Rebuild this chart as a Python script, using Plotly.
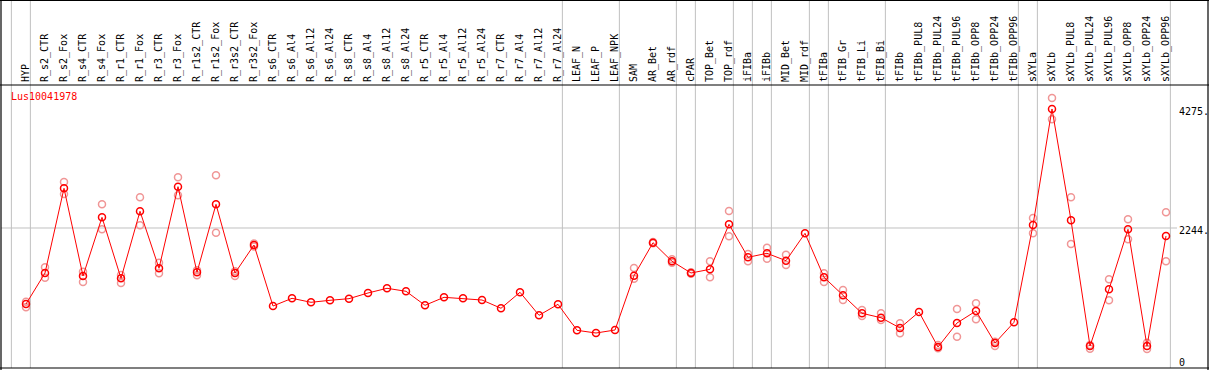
import plotly.graph_objects as go

categories = ["HYP", "R_s2_CTR", "R_s2_Fox", "R_s4_CTR", "R_s4_Fox", "R_r1_CTR", "R_r1_Fox",
              "R_r3_CTR", "R_r3_Fox", "R_r1s2_CTR", "R_r1s2_Fox", "R_r3s2_CTR", "R_r3s2_Fox",
              "R_s6_CTR", "R_s6_Al4", "R_s6_Al12", "R_s6_Al24", "R_s8_CTR", "R_s8_Al4", "R_s8_Al12",
              "R_s8_Al24", "R_r5_CTR", "R_r5_Al4", "R_r5_Al12", "R_r5_Al24", "R_r7_CTR", "R_r7_Al4",
              "R_r7_Al12", "R_r7_Al24", "LEAF_N", "LEAF_P", "LEAF_NPK", "SAM", "AR_Bet", "AR_rdf",
              "cPAR", "TOP_Bet", "TOP_rdf", "iFIBa", "iFIBb", "MID_Bet", "MID_rdf", "tFIBa",
              "tFIB_Gr", "tFIB_Li", "tFIB_Bi", "tFIBb", "tFIBb_PUL8", "tFIBb_PUL24", "tFIBb_PUL96",
              "tFIBb_OPP8", "tFIBb_OPP24", "tFIBb_OPP96", "sXYLa", "sXYLb", "sXYLb_PUL8",
              "sXYLb_PUL24", "sXYLb_PUL96", "sXYLb_OPP8", "sXYLb_OPP24", "sXYLb_OPP96"]

mean_values = [947, 1476, 2921, 1425, 2426, 1385, 2529, 1556, 2949, 1488, 2648, 1476, 1954,
               913, 1044, 976, 1010, 1038, 1135, 1215, 1164, 925, 1061, 1044, 1015, 874, 1147, 754, 942,
               498, 452, 503,
               1430, 1993, 1676, 1476, 1539, 2307, 1744, 1812, 1686, 2153,
               1403, 1096, 788, 713,
               538, 811, 213, 623, 828, 282, 635,
               2295,
               4275, 2375, 230, 1198, 2221, 230, 2108]

rep_high = [986, 1573, 3029, 1498, 2648, 1442, 2768, 1652, 3109, 1522, 3143, 1505, 1980,
            None, None, None, None, None, None, None, None, None, None, None, None, None, None, None, None,
            None, None, None,
            1561, 2005, 1710, 1490, 1676, 2534, 1800, 1908, 1789, None,
            1471, 1186, 845, 788,
            618, None, 247, 862, 959, 304, None,
            2415,
            4462, 2768, 247, 1369, 2392, 287, 2512]

rep_low = [891, 1396, 2824, 1322, 2221, 1305, 2290, 1471, 2802, 1437, 2164, 1425, 1930,
           None, None, None, None, None, None, None, None, None, None, None, None, None, None, None, None,
           None, None, None,
           1380, 1983, 1650, 1465, 1403, 2102, 1676, 1720, 1613, None,
           1322, 1015, 742, 674,
           447, None, 191, 390, 686, 230, None,
           2153,
           4099, 1971, 185, 1010, 2051, 179, 1676]

group_ends = [-1, 0, 28, 31, 34, 35, 37, 38, 39, 41, 42, 45, 52, 53, 60]

y_tick_vals = [0, 2244, 4275]
y_tick_text = ["0", "2244.", "4275."]
gene_name = "Lus10041978"

W, H = 1209, 370
L, R, T, B = 1, 1209 - 1172, 85, 2
PW, PH = W - L - R, H - T - B
MONO = "DejaVu Sans Mono"

x_idx = list(range(len(categories)))

fig = go.Figure()

for reps in (rep_high, rep_low):
    fig.add_trace(go.Scatter(
        x=x_idx, y=reps, mode="markers", showlegend=False, hoverinfo="skip",
        marker=dict(symbol="circle-open", size=7, color="rgb(240,150,150)", line=dict(width=1.5)),
    ))

fig.add_trace(go.Scatter(
    x=x_idx, y=mean_values, mode="lines+markers", showlegend=False, name=gene_name,
    line=dict(color="red", width=1),
    marker=dict(symbol="circle-open", size=7, color="red", line=dict(width=1.5)),
))

def px_to_paper_y(p):
    return (H - B - p) / PH

def px_to_paper_x(p):
    return (p - L) / PW

shapes = []
for g in group_ends:
    shapes.append(dict(type="line", xref="x", yref="paper", x0=g + 0.23, x1=g + 0.23,
                       y0=0, y1=px_to_paper_y(0), line=dict(color="#c0c0c0", width=1), layer="below"))
shapes.append(dict(type="line", xref="paper", yref="y", x0=0, x1=px_to_paper_x(1177),
                   y0=y_tick_vals[1], y1=y_tick_vals[1], line=dict(color="#c0c0c0", width=1), layer="below"))
# frame lines
for py in (0.5, 85, 368):
    shapes.append(dict(type="line", xref="paper", yref="paper", x0=px_to_paper_x(0), x1=px_to_paper_x(W),
                       y0=px_to_paper_y(py), y1=px_to_paper_y(py), line=dict(color="black", width=1.2)))
for pxx in (1, 1208):
    shapes.append(dict(type="line", xref="paper", yref="paper", x0=px_to_paper_x(pxx), x1=px_to_paper_x(pxx),
                       y0=px_to_paper_y(H), y1=px_to_paper_y(0), line=dict(color="black", width=1.2)))

fig.update_layout(
    width=W, height=H,
    margin=dict(l=L, r=R, t=T, b=B, pad=0),
    paper_bgcolor="white", plot_bgcolor="white",
    shapes=shapes,
    annotations=[dict(text=gene_name, xref="paper", yref="paper", x=px_to_paper_x(9), y=px_to_paper_y(97),
                      xanchor="left", yanchor="middle", showarrow=False,
                      font=dict(family=MONO, size=10, color="red"))],
    xaxis=dict(range=[(L - 26) / 19, (L + PW - 26) / 19], side="top",
               tickmode="array", tickvals=x_idx, ticktext=categories, tickangle=-90,
               tickfont=dict(family=MONO, size=10, color="black"), ticks="",
               showgrid=False, zeroline=False, showline=False, ticklabelstandoff=2),
    yaxis=dict(range=[-145, 4684], side="right", tickmode="array", tickvals=y_tick_vals,
               ticktext=y_tick_text, tickfont=dict(family=MONO, size=10, color="black"), ticks="",
               showgrid=False, zeroline=False, showline=False, ticklabelstandoff=6,
               ticklabelshift=3),
)

fig.write_html("out.html", config={"displayModeBar": False},
               post_script="document.body.style.margin='0';document.body.style.overflow='hidden';")
